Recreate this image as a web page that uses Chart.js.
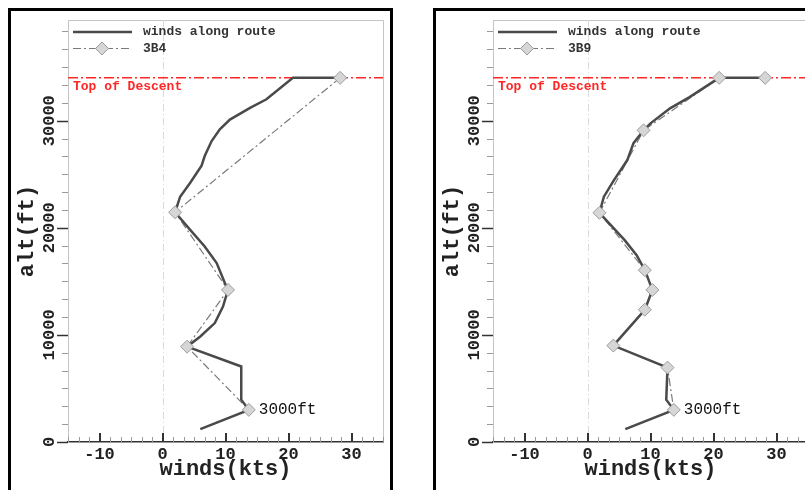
<!DOCTYPE html>
<html>
<head>
<meta charset="utf-8">
<script src="https://cdn.jsdelivr.net/npm/chart.js@4.4.1/dist/chart.umd.min.js"></script>
<style>
  html, body { margin: 0; padding: 0; background: #fff; }
  body { position: relative; width: 805px; height: 490px; overflow: hidden; }
  .frame { position: absolute; top: 8px; height: 500px; border: 3px solid #000; box-sizing: border-box; }
  .panel { position: absolute; top: 0; width: 400px; height: 490px; }
</style>
</head>
<body>
<div class="frame" style="left:8px;width:385px"></div>
<div class="frame" style="left:433px;width:400px"></div>
<div class="panel" style="left:0"><canvas id="leftChart"></canvas></div>
<div class="panel" style="left:425px"><canvas id="rightChart"></canvas></div>
<script>
// axes
var windMin = -15, windMax = 35;
var altMin = 0, altMax = 39400;
var windTicks = [-10, 0, 10, 20, 30];
var altTicks = [0, 10000, 20000, 30000];
var topOfDescent = 34000;

// left panel: winds along route vs 3B4
var routeWindA = [28.2, 20.7, 16.5, 13.9, 10.7, 9.1, 7.8, 6.7, 6.2, 4.4, 2.8, 2.3, 2.0, 4.4, 6.7, 8.6, 9.9, 10.4, 9.6, 8.3, 6.0, 3.9, 12.5, 12.5, 13.7, 6.0];
var routeAltA = [34000, 34000, 32000, 31200, 30100, 29200, 28100, 26700, 25800, 24200, 22900, 22000, 21450, 19800, 18250, 16700, 14850, 14200, 12650, 11100, 9850, 8900, 7050, 3950, 3000, 1200];
var modelWindA = [28.2, 2.0, 10.4, 3.9, 13.7];
var modelAltA = [34000, 21450, 14200, 8900, 3000];

// right panel: winds along route vs 3B9
var routeWindB = [28.2, 20.9, 16.2, 13.1, 10.0, 8.9, 7.3, 6.3, 4.2, 2.6, 1.9, 5.9, 7.8, 9.1, 10.3, 9.1, 4.1, 12.7, 12.5, 13.7, 6.0];
var routeAltB = [34000, 34000, 32200, 31150, 29750, 29100, 27900, 26300, 24450, 22900, 21400, 18850, 17450, 16050, 14200, 12350, 9000, 6950, 3950, 3000, 1200];
var modelWindB = [28.2, 20.9, 8.9, 1.9, 9.1, 10.3, 9.1, 4.1, 12.7, 13.7];
var modelAltB = [34000, 34000, 29100, 21400, 16050, 14200, 12350, 9000, 6950, 3000];

var noteAlt = 3000;
var noteText = '3000ft';

var mono = "'Courier New', 'Liberation Mono', monospace";

function line(ctx, x1, y1, x2, y2) {
    ctx.beginPath();
    ctx.moveTo(x1, y1);
    ctx.lineTo(x2, y2);
    ctx.stroke();
}

function diamond(ctx, x, y, r) {
    ctx.beginPath();
    ctx.moveTo(x, y - r);
    ctx.lineTo(x + r, y);
    ctx.lineTo(x, y + r);
    ctx.lineTo(x - r, y);
    ctx.closePath();
    ctx.fill();
    ctx.stroke();
}

// box edges, zero line, tick marks, rotated y labels, legend and notes
var decor = {
    id: 'decor',
    beforeDatasetsDraw: function (chart) {
        var ctx = chart.ctx, a = chart.chartArea, xs = chart.scales.x;
        ctx.save();
        ctx.strokeStyle = '#c4c4c4';
        ctx.lineWidth = 1;
        ctx.beginPath();
        ctx.moveTo(a.left, a.top + 0.5);
        ctx.lineTo(a.right + 0.5, a.top + 0.5);
        ctx.lineTo(a.right + 0.5, a.bottom);
        ctx.stroke();
        var x0 = Math.round(xs.getPixelForValue(0)) + 0.5;
        ctx.strokeStyle = '#dadada';
        ctx.setLineDash([7, 3, 1, 3]);
        line(ctx, x0, a.top, x0, a.bottom);
        ctx.restore();
    },
    afterDraw: function (chart, args, opts) {
        var ctx = chart.ctx, a = chart.chartArea;
        var xs = chart.scales.x, ys = chart.scales.y;
        var ds = chart.data.datasets;
        ctx.save();

        // y ticks (pointing out)
        ctx.strokeStyle = '#9a9a9a';
        ctx.lineWidth = 1;
        for (var k = 0; altMin + k * 10000 / 6 <= altMax; k++) {
            var py = Math.round(ys.getPixelForValue(altMin + k * 10000 / 6)) + 0.5;
            line(ctx, a.left - 6, py, a.left, py);
        }
        ctx.strokeStyle = '#333';
        ctx.lineWidth = 1.5;
        altTicks.forEach(function (v) {
            var py = Math.round(ys.getPixelForValue(v)) + 0.5;
            line(ctx, a.left - 11, py, a.left, py);
        });

        // x ticks (pointing in)
        ctx.strokeStyle = '#9a9a9a';
        ctx.lineWidth = 1;
        for (var j = -3; j <= 27; j++) {
            var px = Math.round(xs.getPixelForValue(-10 + j * 10 / 6)) + 0.5;
            line(ctx, px, a.bottom, px, a.bottom - 5);
        }
        ctx.strokeStyle = '#333';
        ctx.lineWidth = 2;
        windTicks.forEach(function (v) {
            var px = Math.round(xs.getPixelForValue(v));
            line(ctx, px, a.bottom, px, a.bottom - 9);
        });

        // rotated y tick labels
        ctx.font = 'bold 17px ' + mono;
        ctx.fillStyle = '#222';
        ctx.textAlign = 'center';
        ctx.textBaseline = 'middle';
        altTicks.forEach(function (v) {
            ctx.save();
            ctx.translate(a.left - 18, ys.getPixelForValue(v));
            ctx.rotate(-Math.PI / 2);
            ctx.fillText(String(v), 0, 0);
            ctx.restore();
        });

        // legend
        var route = ds[1], model = ds[2], marks = ds[0];
        var l = a.left, y1 = a.top + 12, y2 = a.top + 28.5;
        ctx.strokeStyle = route.borderColor;
        ctx.lineWidth = route.borderWidth;
        line(ctx, l + 5, y1, l + 64, y1);
        ctx.strokeStyle = model.borderColor;
        ctx.lineWidth = model.borderWidth;
        ctx.setLineDash(model.borderDash);
        line(ctx, l + 5, y2, l + 64, y2);
        ctx.setLineDash([]);
        ctx.fillStyle = marks.pointBackgroundColor;
        ctx.strokeStyle = marks.pointBorderColor;
        ctx.lineWidth = 1;
        diamond(ctx, l + 34, y2, marks.pointRadius);
        ctx.font = 'bold 13px ' + mono;
        ctx.fillStyle = '#333';
        ctx.textAlign = 'left';
        ctx.fillText(route.label, l + 75, y1);
        ctx.fillText(model.label, l + 75, y2);

        // top of descent caption
        ctx.fillStyle = ds[3].borderColor;
        ctx.fillText(ds[3].label, l + 5, ys.getPixelForValue(topOfDescent) + 9);

        // altitude note next to the report point
        var pt = marks.data.filter(function (p) { return p.y === noteAlt; })[0];
        if (pt) {
            ctx.font = '16px ' + mono;
            ctx.fillStyle = '#111';
            ctx.fillText(noteText, xs.getPixelForValue(pt.x) + 10, ys.getPixelForValue(pt.y));
        }
        ctx.restore();
    }
};

function buildChart(id, routeWind, routeAlt, modelWind, modelAlt, modelName) {
    var route = routeAlt.map(function (v, i) { return { x: routeWind[i], y: v }; });
    var model = modelAlt.map(function (v, i) { return { x: modelWind[i], y: v }; });
    var titleFont = { family: mono, size: 22, weight: 'bold' };

    return new Chart(document.getElementById(id), {
        type: 'line',
        data: {
            datasets: [{
                label: modelName,
                data: model,
                showLine: false,
                pointStyle: 'rectRot',
                pointRadius: 6.5,
                pointBackgroundColor: '#d6d6d6',
                pointBorderColor: '#9c9c9c',
                pointBorderWidth: 1,
                order: 0
            }, {
                label: 'winds along route',
                data: route,
                borderColor: '#4a4a4a',
                borderWidth: 2.5,
                pointRadius: 0,
                order: 1
            }, {
                label: modelName,
                data: model,
                borderColor: '#7a7a7a',
                borderWidth: 1.2,
                borderDash: [8, 3, 2, 3],
                pointRadius: 0,
                order: 2
            }, {
                label: 'Top of Descent',
                data: [{ x: windMin, y: topOfDescent }, { x: windMax, y: topOfDescent }],
                borderColor: '#ff2626',
                borderWidth: 1.5,
                borderDash: [10, 3, 2, 3],
                pointRadius: 0,
                order: 3
            }]
        },
        options: {
            responsive: true,
            maintainAspectRatio: false,
            animation: false,
            events: [],
            layout: { padding: { left: 0, top: 20, right: 17, bottom: 0 } },
            plugins: {
                legend: { display: false },
                tooltip: { enabled: false }
            },
            scales: {
                x: {
                    type: 'linear',
                    min: windMin,
                    max: windMax,
                    afterBuildTicks: function (s) { s.ticks = windTicks.map(function (v) { return { value: v }; }); },
                    afterFit: function (s) { s.height = 48; },
                    grid: { display: false, drawTicks: false },
                    border: { display: true, color: '#333', width: 1.5 },
                    ticks: { autoSkip: false, maxRotation: 0, padding: 3, color: '#222', font: { family: mono, size: 17, weight: 'bold' } },
                    title: { display: true, text: 'winds(kts)', color: '#222', font: titleFont, padding: { top: 0, bottom: 7 } }
                },
                y: {
                    type: 'linear',
                    min: altMin,
                    max: altMax,
                    afterBuildTicks: function (s) { s.ticks = altTicks.map(function (v) { return { value: v }; }); },
                    afterFit: function (s) { s.width = 68; },
                    grid: { display: false, drawTicks: false },
                    border: { display: true, color: '#c4c4c4', width: 1 },
                    ticks: { display: false },
                    title: { display: true, text: 'alt(ft)', color: '#222', font: titleFont, padding: { top: 14, bottom: 0 } }
                }
            }
        },
        plugins: [decor]
    });
}

buildChart('leftChart', routeWindA, routeAltA, modelWindA, modelAltA, '3B4');
buildChart('rightChart', routeWindB, routeAltB, modelWindB, modelAltB, '3B9');
</script>
</body>
</html>
